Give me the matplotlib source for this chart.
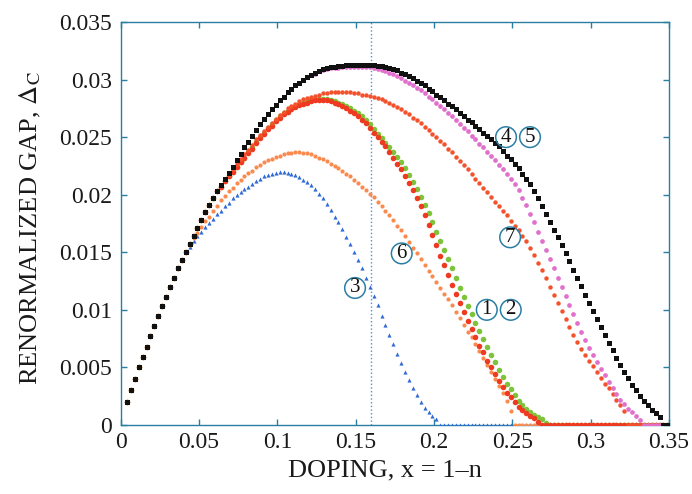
import numpy as np
import matplotlib
matplotlib.use('Agg')
import matplotlib.pyplot as plt

plt.rcParams['font.family'] = ['Liberation Serif', 'DejaVu Serif']
plt.rcParams['mathtext.fontset'] = 'stix'

# doping grid of the calculation (x = 1-n)
DOPING = np.round(0.004 + 0.0025 * np.arange(139), 4)

# common rising part, x = 0.004 ... 0.039
RISE = [0.0020, 0.0030, 0.0040, 0.0050, 0.0059, 0.0068, 0.0077, 0.0086, 0.0095, 0.0103,
        0.0111, 0.0120, 0.0128, 0.0136, 0.0143]

gap_black = RISE + [
    0.0150, 0.0157, 0.0164, 0.0171, 0.0178, 0.0185, 0.0191, 0.0197, 0.0203, 0.0208,
    0.0214, 0.0219, 0.0224, 0.0230, 0.0235, 0.0241, 0.0246, 0.0251, 0.0256, 0.0261,
    0.0266, 0.0270, 0.0274, 0.0278, 0.0282, 0.0285, 0.0289, 0.0292, 0.0295, 0.0297,
    0.0300, 0.0302, 0.0304, 0.0306, 0.0307, 0.0309, 0.0310, 0.0311, 0.0311, 0.0312,
    0.0312, 0.0313, 0.0313, 0.0313, 0.0313, 0.0313, 0.0313, 0.0313, 0.0313, 0.0312,
    0.0312, 0.0311, 0.0310, 0.0309, 0.0308, 0.0306, 0.0305, 0.0303, 0.0301, 0.0299,
    0.0297, 0.0295, 0.0292, 0.0290, 0.0287, 0.0285, 0.0282, 0.0279, 0.0277, 0.0274,
    0.0271, 0.0268, 0.0265, 0.0263, 0.0260, 0.0257, 0.0254, 0.0251, 0.0248, 0.0245,
    0.0242, 0.0238, 0.0234, 0.0231, 0.0227, 0.0223, 0.0218, 0.0214, 0.0209, 0.0203,
    0.0197, 0.0190, 0.0183, 0.0176, 0.0169, 0.0163, 0.0156, 0.0149, 0.0142, 0.0135,
    0.0128, 0.0121, 0.0113, 0.0106, 0.0099, 0.0092, 0.0085, 0.0078, 0.0071, 0.0065,
    0.0058, 0.0052, 0.0046, 0.0041, 0.0035, 0.0030, 0.0025, 0.0021, 0.0017, 0.0013,
    0.0010, 0.0007, 0.0, 0.0]

gap_magenta = RISE + [
    0.0150, 0.0157, 0.0164, 0.0171, 0.0178, 0.0185, 0.0191, 0.0197, 0.0203, 0.0208,
    0.0214, 0.0219, 0.0224, 0.0230, 0.0235, 0.0241, 0.0246, 0.0251, 0.0256, 0.0261,
    0.0266, 0.0270, 0.0274, 0.0278, 0.0282, 0.0285, 0.0289, 0.0292, 0.0295, 0.0297,
    0.0300, 0.0302, 0.0304, 0.0305, 0.0307, 0.0308, 0.0309, 0.0310, 0.0310, 0.0310,
    0.0311, 0.0311, 0.0311, 0.0311, 0.0311, 0.0311, 0.0311, 0.0311, 0.0310, 0.0309,
    0.0308, 0.0307, 0.0306, 0.0305, 0.0303, 0.0301, 0.0299, 0.0297, 0.0295, 0.0293,
    0.0291, 0.0288, 0.0285, 0.0283, 0.0280, 0.0277, 0.0274, 0.0271, 0.0268, 0.0265,
    0.0261, 0.0258, 0.0255, 0.0251, 0.0248, 0.0244, 0.0241, 0.0237, 0.0234, 0.0230,
    0.0226, 0.0222, 0.0218, 0.0214, 0.0209, 0.0204, 0.0197, 0.0191, 0.0183, 0.0176,
    0.0168, 0.0160, 0.0152, 0.0144, 0.0136, 0.0128, 0.0120, 0.0112, 0.0104, 0.0096,
    0.0089, 0.0081, 0.0074, 0.0067, 0.0061, 0.0055, 0.0049, 0.0043, 0.0037, 0.0032,
    0.0027, 0.0022, 0.0018, 0.0014, 0.0011, 0.0008, 0.0004, 0.0, 0.0, 0.0,
    0.0, 0.0, 0.0, 0.0]

gap_red7 = RISE + [
    0.0150, 0.0157, 0.0164, 0.0171, 0.0178, 0.0185, 0.0191, 0.0197, 0.0203, 0.0208,
    0.0213, 0.0217, 0.0222, 0.0227, 0.0231, 0.0235, 0.0239, 0.0243, 0.0248, 0.0252,
    0.0255, 0.0259, 0.0262, 0.0266, 0.0269, 0.0272, 0.0275, 0.0277, 0.0279, 0.0281,
    0.0283, 0.0284, 0.0285, 0.0286, 0.0287, 0.0288, 0.0288, 0.0289, 0.0289, 0.0289,
    0.0289, 0.0289, 0.0289, 0.0288, 0.0288, 0.0287, 0.0287, 0.0286, 0.0285, 0.0284,
    0.0283, 0.0281, 0.0280, 0.0278, 0.0276, 0.0274, 0.0272, 0.0270, 0.0267, 0.0265,
    0.0262, 0.0259, 0.0256, 0.0253, 0.0250, 0.0247, 0.0244, 0.0240, 0.0237, 0.0233,
    0.0229, 0.0226, 0.0222, 0.0218, 0.0214, 0.0210, 0.0206, 0.0202, 0.0198, 0.0194,
    0.0190, 0.0186, 0.0182, 0.0177, 0.0173, 0.0169, 0.0164, 0.0160, 0.0154, 0.0148,
    0.0141, 0.0135, 0.0128, 0.0120, 0.0113, 0.0106, 0.0099, 0.0092, 0.0085, 0.0078,
    0.0072, 0.0066, 0.0061, 0.0056, 0.0051, 0.0046, 0.0041, 0.0036, 0.0032, 0.0027,
    0.0022, 0.0017, 0.0012, 0.0, 0.0, 0.0, 0.0, 0.0, 0.0, 0.0,
    0.0, 0.0, 0.0, 0.0]

gap_green = RISE + [
    0.0150, 0.0157, 0.0164, 0.0171, 0.0178, 0.0185, 0.0191, 0.0197, 0.0203, 0.0207,
    0.0212, 0.0216, 0.0220, 0.0224, 0.0228, 0.0232, 0.0237, 0.0241, 0.0246, 0.0250,
    0.0254, 0.0258, 0.0261, 0.0265, 0.0268, 0.0271, 0.0273, 0.0275, 0.0277, 0.0279,
    0.0280, 0.0281, 0.0282, 0.0283, 0.0283, 0.0283, 0.0283, 0.0282, 0.0281, 0.0280,
    0.0279, 0.0277, 0.0275, 0.0273, 0.0271, 0.0268, 0.0265, 0.0261, 0.0257, 0.0253,
    0.0249, 0.0245, 0.0241, 0.0237, 0.0233, 0.0228, 0.0223, 0.0217, 0.0211, 0.0205,
    0.0198, 0.0191, 0.0184, 0.0176, 0.0168, 0.0160, 0.0152, 0.0144, 0.0136, 0.0128,
    0.0119, 0.0111, 0.0103, 0.0096, 0.0089, 0.0082, 0.0075, 0.0068, 0.0061, 0.0055,
    0.0048, 0.0042, 0.0036, 0.0031, 0.0026, 0.0021, 0.0017, 0.0014, 0.0011, 0.0009,
    0.0007, 0.0005, 0.0002, 0.0, 0.0, 0.0, 0.0, 0.0, 0.0, 0.0,
    0.0, 0.0, 0.0, 0.0, 0.0, 0.0, 0.0, 0.0, 0.0, 0.0,
    0.0, 0.0, 0.0, 0.0, 0.0, 0.0, 0.0, 0.0, 0.0, 0.0,
    0.0, 0.0, 0.0, 0.0]

gap_red1 = RISE + [
    0.0150, 0.0157, 0.0164, 0.0171, 0.0178, 0.0185, 0.0191, 0.0197, 0.0203, 0.0207,
    0.0212, 0.0216, 0.0220, 0.0224, 0.0228, 0.0232, 0.0236, 0.0240, 0.0245, 0.0249,
    0.0253, 0.0257, 0.0260, 0.0264, 0.0267, 0.0270, 0.0272, 0.0274, 0.0276, 0.0278,
    0.0279, 0.0280, 0.0281, 0.0282, 0.0282, 0.0282, 0.0282, 0.0281, 0.0280, 0.0279,
    0.0277, 0.0275, 0.0273, 0.0271, 0.0268, 0.0265, 0.0262, 0.0258, 0.0254, 0.0250,
    0.0246, 0.0242, 0.0237, 0.0232, 0.0227, 0.0222, 0.0216, 0.0210, 0.0204, 0.0197,
    0.0190, 0.0182, 0.0174, 0.0165, 0.0156, 0.0147, 0.0139, 0.0130, 0.0122, 0.0114,
    0.0106, 0.0098, 0.0090, 0.0083, 0.0076, 0.0069, 0.0063, 0.0056, 0.0050, 0.0044,
    0.0038, 0.0033, 0.0028, 0.0024, 0.0020, 0.0016, 0.0013, 0.0010, 0.0008, 0.0006,
    0.0003, 0.0, 0.0, 0.0, 0.0, 0.0, 0.0, 0.0, 0.0, 0.0,
    0.0, 0.0, 0.0, 0.0, 0.0, 0.0, 0.0, 0.0, 0.0, 0.0,
    0.0, 0.0, 0.0, 0.0, 0.0, 0.0, 0.0, 0.0, 0.0, 0.0,
    0.0, 0.0, 0.0, 0.0]

gap_orange6 = RISE + [
    0.0150, 0.0156, 0.0162, 0.0167, 0.0172, 0.0177, 0.0181, 0.0186, 0.0190, 0.0195,
    0.0199, 0.0203, 0.0206, 0.0210, 0.0213, 0.0216, 0.0219, 0.0221, 0.0224, 0.0226,
    0.0228, 0.0230, 0.0231, 0.0233, 0.0234, 0.0235, 0.0236, 0.0236, 0.0237, 0.0237,
    0.0236, 0.0236, 0.0235, 0.0234, 0.0232, 0.0231, 0.0229, 0.0227, 0.0225, 0.0223,
    0.0221, 0.0218, 0.0216, 0.0213, 0.0210, 0.0207, 0.0204, 0.0201, 0.0198, 0.0194,
    0.0190, 0.0186, 0.0182, 0.0178, 0.0173, 0.0169, 0.0164, 0.0159, 0.0154, 0.0149,
    0.0144, 0.0139, 0.0134, 0.0129, 0.0124, 0.0119, 0.0114, 0.0109, 0.0104, 0.0098,
    0.0093, 0.0087, 0.0081, 0.0076, 0.0070, 0.0064, 0.0058, 0.0052, 0.0046, 0.0040,
    0.0034, 0.0028, 0.0021, 0.0012, 0.0, 0.0, 0.0, 0.0, 0.0, 0.0,
    0.0, 0.0, 0.0, 0.0, 0.0, 0.0, 0.0, 0.0, 0.0, 0.0,
    0.0, 0.0, 0.0, 0.0, 0.0, 0.0, 0.0, 0.0, 0.0, 0.0,
    0.0, 0.0, 0.0, 0.0, 0.0, 0.0, 0.0, 0.0, 0.0, 0.0,
    0.0, 0.0, 0.0, 0.0]

# blue curve was only computed up to x = 0.25
gap_blue3 = RISE + [
    0.0150, 0.0155, 0.0160, 0.0164, 0.0168, 0.0172, 0.0175, 0.0179, 0.0183, 0.0186,
    0.0190, 0.0193, 0.0197, 0.0200, 0.0202, 0.0205, 0.0207, 0.0209, 0.0212, 0.0214,
    0.0216, 0.0217, 0.0218, 0.0219, 0.0220, 0.0220, 0.0219, 0.0218, 0.0217, 0.0215,
    0.0213, 0.0211, 0.0208, 0.0205, 0.0201, 0.0197, 0.0192, 0.0187, 0.0181, 0.0176,
    0.0170, 0.0163, 0.0157, 0.0150, 0.0143, 0.0136, 0.0128, 0.0120, 0.0112, 0.0104,
    0.0095, 0.0087, 0.0078, 0.0070, 0.0062, 0.0054, 0.0046, 0.0039, 0.0032, 0.0026,
    0.0020, 0.0015, 0.0011, 0.0008, 0.0005, 0.0, 0.0, 0.0, 0.0, 0.0,
    0.0, 0.0, 0.0, 0.0, 0.0, 0.0, 0.0, 0.0, 0.0, 0.0,
    0.0, 0.0, 0.0, 0.0]

# circled curve labels: text, x, y
LABELS = ['1', '2', '3', '4', '5', '6', '7']
LABEL_X = [0.2337, 0.2490, 0.1496, 0.2460, 0.2613, 0.1794, 0.2486]
LABEL_Y = [0.0100, 0.0100, 0.0119, 0.0250, 0.0250, 0.0149, 0.0163]

teal = '#2a7ea3'

fig = plt.figure(figsize=(6.92, 4.94), dpi=100)
ax = fig.add_axes([0.1744, 0.1397, 0.7923, 0.8158])

ax.axvline(0.16, color='#4a8fdc', ls=':', lw=1.0, zorder=1)

ax.plot(DOPING[:len(gap_blue3)], gap_blue3, '^', color='#2f6ad6', ms=3.0, mew=0, zorder=3)
ax.plot(DOPING, gap_orange6, 'o', color='#fb8a4e', ms=3.0, mew=0, zorder=3)
ax.plot(DOPING, gap_green, 'o', color='#7dc43a', ms=4.0, mew=0, zorder=4)
ax.plot(DOPING, gap_red1, 'o', color='#ef3a22', ms=4.0, mew=0, zorder=5)
ax.plot(DOPING, gap_red7, 'o', color='#f4522c', ms=3.2, mew=0, zorder=5)
ax.plot(DOPING, gap_magenta, 'o', color='#e070cc', ms=3.4, mew=0, zorder=6)
ax.plot(DOPING, gap_black, 's', color='#111111', ms=3.6, mew=0, zorder=7)

for t, lx, ly in zip(LABELS, LABEL_X, LABEL_Y):
    ax.text(lx, ly, t, fontsize=15, color='#111111', ha='center', va='center', zorder=8,
            bbox=dict(boxstyle='circle,pad=0.04', fc='none', ec=teal, lw=1.1))

ax.set_xlim(0, 0.35)
ax.set_ylim(0, 0.035)
ax.set_xticks([0, 0.05, 0.1, 0.15, 0.2, 0.25, 0.3, 0.35])
ax.set_xticklabels(['0', '0.05', '0.1', '0.15', '0.2', '0.25', '0.3', '0.35'])
ax.set_yticks([0, 0.005, 0.01, 0.015, 0.02, 0.025, 0.03, 0.035])
ax.set_yticklabels(['0', '0.005', '0.01', '0.015', '0.02', '0.025', '0.03', '0.035'])
ax.tick_params(direction='in', length=4, width=1, color=teal, labelsize=17,
               labelcolor='#1a1a1a', top=True, right=True)
ax.tick_params(axis='x', pad=5)
ax.tick_params(axis='y', pad=6)
for s in ax.spines.values():
    s.set_color(teal)
    s.set_linewidth(1.0)

fig.text(385 / 692, 1 - 470 / 494, 'DOPING, x = 1\u2013n', fontsize=19,
         ha='center', va='center', color='#1a1a1a')
fig.text(30 / 692, 1 - 228 / 494, r'RENORMALIZED GAP, $\Delta_\mathrm{C}$', fontsize=19,
         ha='center', va='center', rotation=90, color='#1a1a1a')

plt.savefig('out.png', dpi=100)
